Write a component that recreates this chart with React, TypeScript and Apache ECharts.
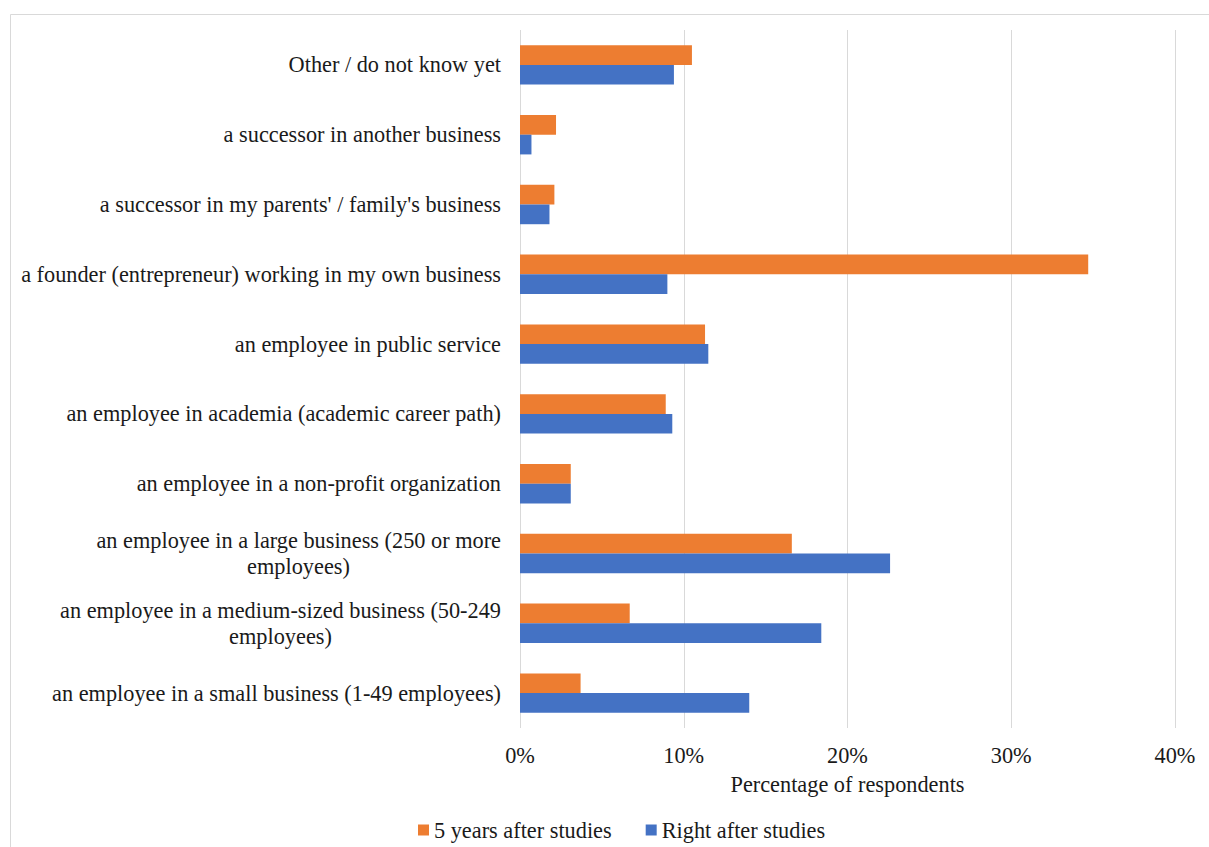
import React, { useEffect, useRef } from "react";
import * as echarts from "echarts";

const categories = [
  "Other / do not know yet",
  "a successor in another business",
  "a successor in my parents' / family's business",
  "a founder (entrepreneur) working in my own business",
  "an employee in public service",
  "an employee in academia (academic career path)",
  "an employee in a non-profit organization",
  "an employee in a large business (250 or more\nemployees)",
  "an employee in a medium-sized business (50-249\nemployees)",
  "an employee in a small business (1-49 employees)",
];
const fiveYearsAfter = [10.5, 2.2, 2.1, 34.7, 11.3, 8.9, 3.1, 16.6, 6.7, 3.7];
const rightAfter = [9.4, 0.7, 1.8, 9.0, 11.5, 9.3, 3.1, 22.6, 18.4, 14.0];
const xTicks = [0, 10, 20, 30, 40];
const seriesNames = ["5 years after studies", "Right after studies"];

const FONT = "Liberation Serif";
const FS = 22.3;
const TXT = "#1a1a1a";

export default function App() {
  const ref = useRef<HTMLDivElement>(null);
  useEffect(() => {
    if (!ref.current) return;
    const chart = echarts.init(ref.current, null, { renderer: "svg" });
    const canvas = document.createElement("canvas");
    const ctx = canvas.getContext("2d")!;
    ctx.font = `${FS}px ${FONT}`;
    const rich: any = {
      a: { fontSize: FS, fontFamily: FONT, color: TXT, lineHeight: 26 },
    };
    categories.forEach((c, i) => {
      const lines = c.split("\n");
      if (lines.length > 1) {
        rich["b" + i] = {
          fontSize: FS,
          fontFamily: FONT,
          color: TXT,
          lineHeight: 26,
          width: Math.round(ctx.measureText(lines[0]).width),
          align: "center",
        };
      }
    });
    chart.setOption({
      animation: false,
      textStyle: { fontFamily: FONT },
      graphic: [
        {
          type: "rect",
          shape: { x: 10.5, y: 14.5, width: 1300, height: 900 },
          style: { fill: "none", stroke: "#d9d9d9", lineWidth: 1 },
          silent: true,
        },
      ],
      grid: { left: 520, right: 34, top: 30, bottom: 119 },
      legend: {
        data: seriesNames,
        left: 413,
        top: 814,
        icon: "rect",
        itemWidth: 11,
        itemHeight: 11,
        itemGap: 34,
        textStyle: { fontSize: FS, fontFamily: FONT, color: TXT },
      },
      xAxis: {
        type: "value",
        min: 0,
        max: 40,
        interval: 10,
        name: "Percentage of respondents",
        nameLocation: "middle",
        nameGap: 45,
        nameTextStyle: { fontSize: FS, fontFamily: FONT, color: TXT },
        axisLine: { show: false },
        axisTick: { show: false },
        axisLabel: {
          fontSize: FS,
          fontFamily: FONT,
          color: TXT,
          margin: 16,
          formatter: (v: number) => (xTicks.includes(v) ? v + "%" : ""),
        },
        splitLine: { show: true, lineStyle: { color: "#d9d9d9", width: 1 } },
      },
      yAxis: {
        type: "category",
        data: categories,
        inverse: true,
        axisLine: { show: false },
        axisTick: { show: false },
        splitLine: { show: false },
        axisLabel: {
          margin: 19,
          fontSize: FS,
          fontFamily: FONT,
          color: TXT,
          lineHeight: 26,
          formatter: (v: string, i: number) => {
            const lines = v.split("\n");
            if (lines.length > 1) return `{a|${lines[0]}}\n{b${i}|${lines[1]}}`;
            return `{a|${v}}`;
          },
          rich,
        },
      },
      series: [
        {
          name: seriesNames[0],
          type: "bar",
          data: fiveYearsAfter,
          itemStyle: { color: "#ED7D31" },
          barGap: "0%",
          barCategoryGap: "43.5%",
        },
        {
          name: seriesNames[1],
          type: "bar",
          data: rightAfter,
          itemStyle: { color: "#4472C4" },
          barGap: "0%",
          barCategoryGap: "43.5%",
        },
      ],
    });
    return () => chart.dispose();
  }, []);
  return (
    <div
      ref={ref}
      style={{ position: "fixed", left: 0, top: 0, width: 1209, height: 847, background: "#fff", overflow: "hidden" }}
    />
  );
}
